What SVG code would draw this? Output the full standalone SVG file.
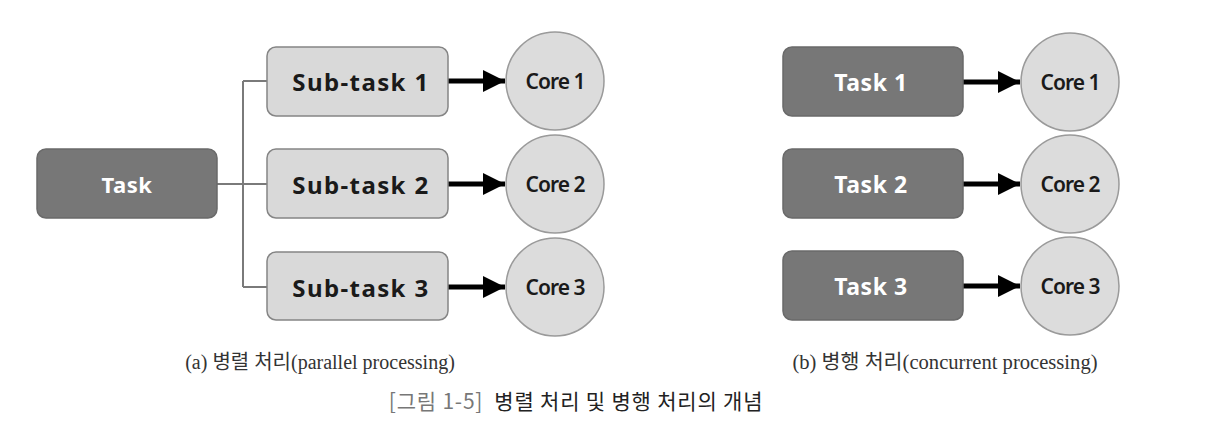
<svg xmlns="http://www.w3.org/2000/svg" width="1210" height="447" viewBox="0 0 1210 447">
<defs>
<style>
.dark{fill:#777777;stroke:#6a6a6a;stroke-width:1.5}
.light{fill:#d9d9d9;stroke:#858585;stroke-width:1.5}
.core{fill:#dcdcdc;stroke:#9a9a9a;stroke-width:1.5}
.wt{font-family:"Noto Sans","Open Sans",sans-serif;font-weight:bold;font-size:23px;fill:#ffffff;text-anchor:middle;dominant-baseline:central;letter-spacing:0.6px}
.bt{font-family:"Noto Sans","Open Sans",sans-serif;font-weight:bold;font-size:24px;fill:#1a1a1a;text-anchor:middle;dominant-baseline:central;letter-spacing:1.4px}
.ct{font-family:"Noto Sans","Open Sans",sans-serif;font-weight:600;font-size:21px;fill:#1a1a1a;text-anchor:middle;dominant-baseline:central;letter-spacing:-1px}
.cap{font-family:"Liberation Serif","Noto Sans CJK KR",serif;font-size:20px;fill:#333333;text-anchor:middle}
.fig{font-family:"Noto Sans CJK KR","Noto Sans",sans-serif;font-weight:normal;font-size:21px;fill:#222222;text-anchor:middle;letter-spacing:0.8px}
.tree{fill:none;stroke:#7a7a7a;stroke-width:2}
.arr{stroke:#000000;stroke-width:5;fill:none}
</style>
<marker id="ah" markerUnits="userSpaceOnUse" markerWidth="24" markerHeight="22" refX="22" refY="11" orient="auto">
<path d="M0,0 L22,11 L0,22 Z" fill="#000000"/>
</marker>
</defs>
<rect width="1210" height="447" fill="#ffffff"/>

<g id="connectors">
<path class="tree" d="M217,184 H243 M243,81 V287 M243,81 H267 M243,184 H267 M243,287 H267"/>
<line class="arr" x1="448" y1="81" x2="505" y2="81" marker-end="url(#ah)"/>
<line class="arr" x1="448" y1="184" x2="505" y2="184" marker-end="url(#ah)"/>
<line class="arr" x1="448" y1="287" x2="505" y2="287" marker-end="url(#ah)"/>
<line class="arr" x1="963" y1="82" x2="1020" y2="82" marker-end="url(#ah)"/>
<line class="arr" x1="963" y1="184" x2="1020" y2="184" marker-end="url(#ah)"/>
<line class="arr" x1="963" y1="286" x2="1020" y2="286" marker-end="url(#ah)"/>
</g>

<g id="task">
<rect class="dark" x="37" y="149" width="180" height="69" rx="9"/>
<text class="wt" x="127" y="184" style="font-size:22px">Task</text>
</g>
<g id="subtask1">
<rect class="light" x="267" y="47" width="181" height="69" rx="9"/>
<text class="bt" x="361" y="81">Sub-task 1</text>
</g>
<g id="subtask2">
<rect class="light" x="267" y="149" width="181" height="69" rx="9"/>
<text class="bt" x="361" y="184">Sub-task 2</text>
</g>
<g id="subtask3">
<rect class="light" x="267" y="252" width="181" height="68" rx="9"/>
<text class="bt" x="361" y="287">Sub-task 3</text>
</g>
<g id="core1a">
<circle class="core" cx="555" cy="81" r="49"/>
<text class="ct" x="555" y="81">Core 1</text>
</g>
<g id="core2a">
<circle class="core" cx="555" cy="184" r="49"/>
<text class="ct" x="555" y="184">Core 2</text>
</g>
<g id="core3a">
<circle class="core" cx="555" cy="287" r="49"/>
<text class="ct" x="555" y="287">Core 3</text>
</g>

<g id="task1">
<rect class="dark" x="783" y="47" width="180" height="69" rx="9"/>
<text class="wt" x="871" y="82">Task 1</text>
</g>
<g id="task2">
<rect class="dark" x="783" y="149" width="180" height="69" rx="9"/>
<text class="wt" x="871" y="184">Task 2</text>
</g>
<g id="task3">
<rect class="dark" x="783" y="251" width="180" height="69" rx="9"/>
<text class="wt" x="871" y="286">Task 3</text>
</g>
<g id="core1b">
<circle class="core" cx="1070" cy="82" r="49"/>
<text class="ct" x="1070" y="82">Core 1</text>
</g>
<g id="core2b">
<circle class="core" cx="1070" cy="184" r="49"/>
<text class="ct" x="1070" y="184">Core 2</text>
</g>
<g id="core3b">
<circle class="core" cx="1070" cy="286" r="49"/>
<text class="ct" x="1070" y="286">Core 3</text>
</g>

<text class="cap" x="320" y="369">(a) 병렬 처리(parallel processing)</text>
<text class="cap" x="945" y="369" style="font-size:20.6px">(b) 병행 처리(concurrent processing)</text>
<text class="fig" x="576" y="409" xml:space="preserve"><tspan fill="#777777">[그림 1-5]</tspan>  병렬 처리 및 병행 처리의 개념</text>
</svg>
